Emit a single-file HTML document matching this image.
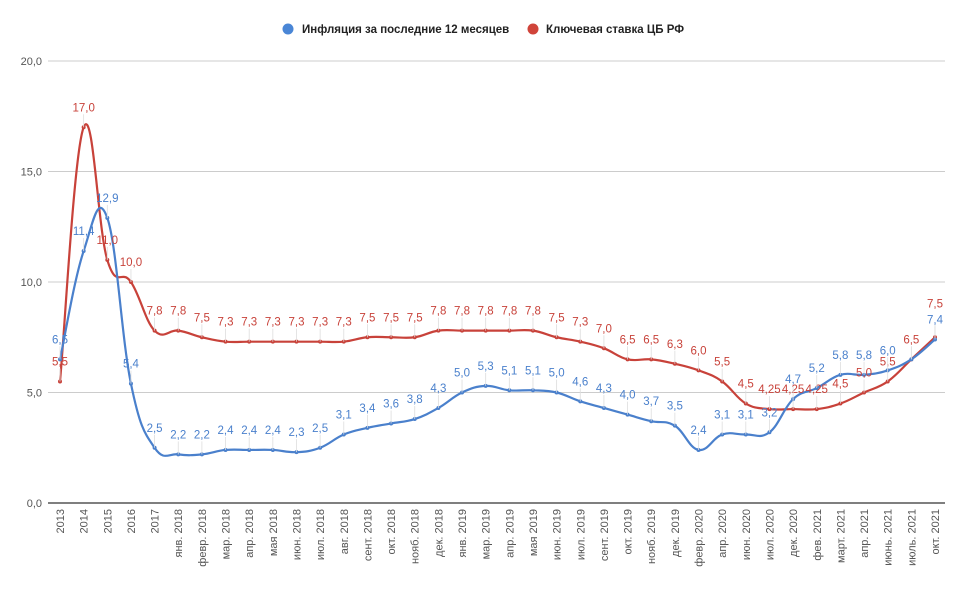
<!DOCTYPE html>
<html><head><meta charset="utf-8"><style>
body{margin:0;background:#fff;}
svg{display:block;font-family:"Liberation Sans","DejaVu Sans",sans-serif;}
</style></head><body>
<svg id="chart" width="968" height="595" viewBox="0 0 968 595">
<g>
<g><circle cx="288" cy="29" r="5.5" fill="#4a86d6"/><text x="302" y="33" font-size="11.5" font-weight="bold" fill="#222">Инфляция за последние 12 месяцев</text></g>
<g><circle cx="533" cy="29" r="5.5" fill="#d0443a"/><text x="546" y="33" font-size="11.5" font-weight="bold" fill="#222">Ключевая ставка ЦБ РФ</text></g>
</g>
<g id="grid"></g><g id="xl"></g><g id="series"></g><g id="labels"></g>
</svg>
<script>
const categories=["2013","2014","2015","2016","2017","янв. 2018","февр. 2018","мар. 2018","апр. 2018","мая 2018","июн. 2018","июл. 2018","авг. 2018","сент. 2018","окт. 2018","нояб. 2018","дек. 2018","янв. 2019","мар. 2019","апр. 2019","мая 2019","июн. 2019","июл. 2019","сент. 2019","окт. 2019","нояб. 2019","дек. 2019","февр. 2020","апр. 2020","июн. 2020","июл. 2020","дек. 2020","фев. 2021","март. 2021","апр. 2021","июнь. 2021","июль. 2021","окт. 2021"];
const inflation=[6.5,11.4,12.9,5.4,2.5,2.2,2.2,2.4,2.4,2.4,2.3,2.5,3.1,3.4,3.6,3.8,4.3,5.0,5.3,5.1,5.1,5.0,4.6,4.3,4.0,3.7,3.5,2.4,3.1,3.1,3.2,4.7,5.2,5.8,5.8,6.0,6.5,7.4];
const keyRate=[5.5,17.0,11.0,10.0,7.8,7.8,7.5,7.3,7.3,7.3,7.3,7.3,7.3,7.5,7.5,7.5,7.8,7.8,7.8,7.8,7.8,7.5,7.3,7.0,6.5,6.5,6.3,6.0,5.5,4.5,4.25,4.25,4.25,4.5,5.0,5.5,6.5,7.5];
const yTicks=[0,5,10,15,20];
const NS="http://www.w3.org/2000/svg";
const X0=60,X1=935,Y0=503,YTOP=61;
function xs(i){return X0+i*(X1-X0)/(categories.length-1);}
function ys(v){return Y0-v*(Y0-YTOP)/20;}
function el(t,a,p){const e=document.createElementNS(NS,t);for(const k in a)e.setAttribute(k,a[k]);p.appendChild(e);return e;}
const fmt=v=>String(v).replace('.',',').replace(/^(\d+)$/,'$1,0');
const grid=document.getElementById('grid');
yTicks.forEach(t=>{
  const l=el('line',{x1:48,x2:945,y1:ys(t),y2:ys(t),stroke:t===0?'#333':'#ccc','stroke-width':t===0?1.2:1},grid);
  
  
  const tx=el('text',{x:42,y:ys(t)+4,'text-anchor':'end','font-size':11,fill:'#555'},grid);
  tx.textContent=t.toFixed(1).replace('.',',');
  
  
});
const xl=document.getElementById('xl');
categories.forEach((c,i)=>{
  const x=xs(i)+4,y=509;
  const t=el('text',{x:x,y:y,'text-anchor':'end','font-size':11,fill:'#555',transform:`rotate(-90 ${x} ${y})`},xl);
  t.textContent=c;
  
  
});
function path(vals){
  const p=vals.map((v,i)=>[xs(i),ys(v)]);let d=`M${p[0][0]},${p[0][1]}`;const k=0.2;
  for(let i=0;i<p.length-1;i++){const a=p[Math.max(0,i-1)],b=p[i],c=p[i+1],e=p[Math.min(p.length-1,i+2)];
    d+=` C${b[0]+(c[0]-a[0])*k},${b[1]+(c[1]-a[1])*k} ${c[0]-(e[0]-b[0])*k},${c[1]-(e[1]-b[1])*k} ${c[0]},${c[1]}`;}
  return d;}
const sg=document.getElementById('series'),lg=document.getElementById('labels');
[[keyRate,'#c8423a','key-rate'],[inflation,'#4a80cc','inflation']].forEach(([vals,col,nm])=>{
  const g=el('g',{},sg);
  
  
  const ln=el('path',{d:path(vals),fill:'none',stroke:col,'stroke-width':2.2},g);
  
  
  vals.forEach((v,i)=>{
    const x=xs(i),y=ys(v);
    el('line',{x1:x,x2:x,y1:y-13,y2:y,stroke:'#ddd','stroke-width':0.8},lg);
    const pt=el('circle',{cx:x,cy:y,r:2,fill:col},g);
    
    
    if(nm==='inflation'&&i===36)return;
    let off=16;
    if(nm==='key-rate'&&i===vals.length-1)off=30;
    const t=el('text',{x:x,y:y-off,'text-anchor':'middle','font-size':11.5,fill:col},lg);
    t.textContent=fmt(v);
    
    
  });
});
</script>
</body></html>
